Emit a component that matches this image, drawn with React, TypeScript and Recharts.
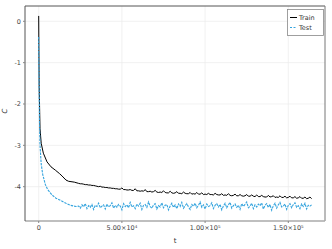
import { LineChart, Line, XAxis, YAxis, CartesianGrid, ReferenceLine, Label } from 'recharts'

// early (smooth) part of each curve
const trainEarlyT = [0, 100, 300, 800, 1500, 2800, 5000, 7400, 10000, 12400, 14000, 16400, 18000, 21400]
const trainEarly = [0.13, -0.6, -1.6, -2.6, -2.95, -3.19, -3.4, -3.52, -3.6, -3.68, -3.74, -3.84, -3.87, -3.89]

const testEarlyT = [0, 200, 500, 800, 1500, 2400, 4000, 5400, 8000, 10400, 13000, 16400, 19000, 22400]
const testEarly = [-0.38, -1.5, -2.5, -3.0, -3.45, -3.7, -3.95, -4.07, -4.2, -4.28, -4.33, -4.4, -4.45, -4.48]

// noisy tail, sampled every 1000 steps from t = 24000
const tailStart = 24000
const tailStep = 1000

const trainTail = [
  -3.92, -3.93, -3.93, -3.94, -3.95, -3.95, -3.96, -3.96, -3.97, -3.97,
  -3.98, -3.99, -4.0, -3.99, -4.01, -4.01, -4.02, -4.02, -4.03, -4.03,
  -4.04, -4.04, -4.05, -4.05, -4.06, -4.06, -4.03, -4.07, -4.07, -4.08,
  -4.08, -4.07, -4.09, -4.09, -4.05, -4.1, -4.1, -4.11, -4.1, -4.11,
  -4.07, -4.12, -4.12, -4.11, -4.13, -4.12, -4.09, -4.13, -4.14, -4.13,
  -4.14, -4.1, -4.14, -4.15, -4.15, -4.11, -4.15, -4.16, -4.15, -4.12,
  -4.16, -4.16, -4.17, -4.13, -4.16, -4.17, -4.17, -4.14, -4.18, -4.17,
  -4.18, -4.14, -4.18, -4.18, -4.15, -4.19, -4.18, -4.19, -4.16, -4.19,
  -4.19, -4.2, -4.16, -4.19, -4.2, -4.2, -4.17, -4.21, -4.2, -4.21,
  -4.17, -4.21, -4.22, -4.21, -4.18, -4.22, -4.22, -4.19, -4.22, -4.23,
  -4.22, -4.19, -4.23, -4.23, -4.2, -4.23, -4.24, -4.2, -4.24, -4.24,
  -4.21, -4.24, -4.25, -4.25, -4.21, -4.25, -4.24, -4.22, -4.26, -4.25,
  -4.26, -4.22, -4.26, -4.26, -4.23, -4.27, -4.26, -4.23, -4.27, -4.27,
  -4.24, -4.28, -4.27, -4.24, -4.28, -4.28, -4.25, -4.29, -4.28, -4.25,
  -4.29,
]

const testTail = [
  -4.47, -4.52, -4.44, -4.49, -4.41, -4.53, -4.46, -4.5, -4.43, -4.55,
  -4.45, -4.48, -4.4, -4.51, -4.47, -4.44, -4.54, -4.42, -4.49, -4.46,
  -4.39, -4.52, -4.45, -4.5, -4.43, -4.47, -4.56, -4.41, -4.48, -4.44,
  -4.51, -4.38, -4.49, -4.46, -4.53, -4.42, -4.47, -4.4, -4.55, -4.45,
  -4.43, -4.5, -4.37, -4.48, -4.52, -4.44, -4.41, -4.54, -4.46, -4.49,
  -4.39, -4.51, -4.45, -4.43, -4.56, -4.47, -4.4, -4.5, -4.44, -4.53,
  -4.42, -4.48, -4.38, -4.52, -4.46, -4.41, -4.49, -4.55, -4.43, -4.47,
  -4.4, -4.51, -4.45, -4.37, -4.5, -4.44, -4.54, -4.42, -4.48, -4.46,
  -4.39, -4.53, -4.45, -4.41, -4.49, -4.43, -4.56, -4.47, -4.4, -4.51,
  -4.44, -4.38, -4.52, -4.46, -4.42, -4.5, -4.45, -4.55, -4.41, -4.48,
  -4.43, -4.37, -4.51, -4.47, -4.4, -4.53, -4.44, -4.49, -4.42, -4.46,
  -4.39, -4.54, -4.45, -4.41, -4.5, -4.43, -4.57, -4.46, -4.4, -4.52,
  -4.44, -4.38, -4.49, -4.47, -4.42, -4.55, -4.45, -4.41, -4.51, -4.43,
  -4.39, -4.5, -4.46, -4.53, -4.42, -4.48, -4.4, -4.54, -4.45, -4.47,
  -4.44,
]

const xTicks = [0, 50000, 100000, 150000]
const xTickLabels = ['0', '5.00×10⁴', '1.00×10⁵', '1.50×10⁵']
const yTicks = [0, -1, -2, -3, -4]

const X_MIN = -8230
const X_MAX = 172050
const Y_MIN = -4.83
const Y_MAX = 0.37

const build = (ts: number[], vs: number[], tail: number[]) => [
  ...ts.map((t, i) => ({ t, v: vs[i] })),
  ...tail.map((v, i) => ({ t: tailStart + i * tailStep, v })),
]

const trainData = build(trainEarlyT, trainEarly, trainTail)
const testData = build(testEarlyT, testEarly, testTail)

const font = 'DejaVu Sans, sans-serif'
const testColor = '#35a4de'

function LegendBox() {
  return (
    <svg width={37} height={27} style={{ position: 'absolute', left: 287, top: 9 }}>
      <rect x={0.5} y={0.5} width={36} height={26} fill="#fff" stroke="#888" strokeWidth={0.8} />
      <line x1={3} x2={10} y1={8.5} y2={8.5} stroke="#000" strokeWidth={1} />
      <text x={12} y={11} fontSize={6.5} fontFamily={font} fill="#333">Train</text>
      <line x1={3} x2={10} y1={18.5} y2={18.5} stroke={testColor} strokeWidth={1} strokeDasharray="2 1.5" />
      <text x={12} y={21} fontSize={6.5} fontFamily={font} fill="#333">Test</text>
    </svg>
  )
}

export default function App() {
  return (
    <div style={{ position: 'absolute', left: 0, top: 0, width: 332, height: 249 }}>
      <LineChart width={332} height={249} margin={{ top: 6, right: 7, left: 0, bottom: 0 }}>
        <CartesianGrid stroke="#ebebeb" strokeWidth={0.7} horizontalValues={yTicks} verticalValues={xTicks} />
        <XAxis
          dataKey="t"
          type="number"
          domain={[X_MIN, X_MAX]}
          ticks={xTicks}
          allowDataOverflow
          height={28}
          tickSize={2}
          tickLine={{ stroke: '#888' }}
          axisLine={{ stroke: '#aaa', strokeWidth: 1.5 }}
          tick={{ fontSize: 6.5, fill: '#444', fontFamily: font }}
          tickFormatter={(v: number) => xTickLabels[xTicks.indexOf(v)] ?? ''}
        >
          <Label value="t" position="insideBottom" offset={6} style={{ fontSize: 7, fill: '#333', fontFamily: font }} />
        </XAxis>
        <YAxis
          type="number"
          domain={[Y_MIN, Y_MAX]}
          ticks={yTicks}
          allowDataOverflow
          width={25}
          tickSize={2}
          tickLine={{ stroke: '#888' }}
          axisLine={{ stroke: '#555', strokeWidth: 1 }}
          tick={{ fontSize: 6.5, fill: '#444', fontFamily: font }}
        >
          <Label value="C" angle={-90} position="insideLeft" offset={5} style={{ fontSize: 7, fill: '#333', fontFamily: font, fontStyle: 'italic' }} />
        </YAxis>
        <ReferenceLine y={Y_MAX} stroke="#555" strokeWidth={1} />
        <ReferenceLine x={X_MAX} stroke="#777" strokeWidth={1} />
        <Line
          data={trainData}
          dataKey="v"
          name="Train"
          stroke="#000"
          strokeWidth={1}
          dot={false}
          isAnimationActive={false}
        />
        <Line
          data={testData}
          dataKey="v"
          name="Test"
          stroke={testColor}
          strokeWidth={1.1}
          strokeDasharray="2.5 1"
          dot={false}
          isAnimationActive={false}
        />
      </LineChart>
      <LegendBox />
    </div>
  )
}
